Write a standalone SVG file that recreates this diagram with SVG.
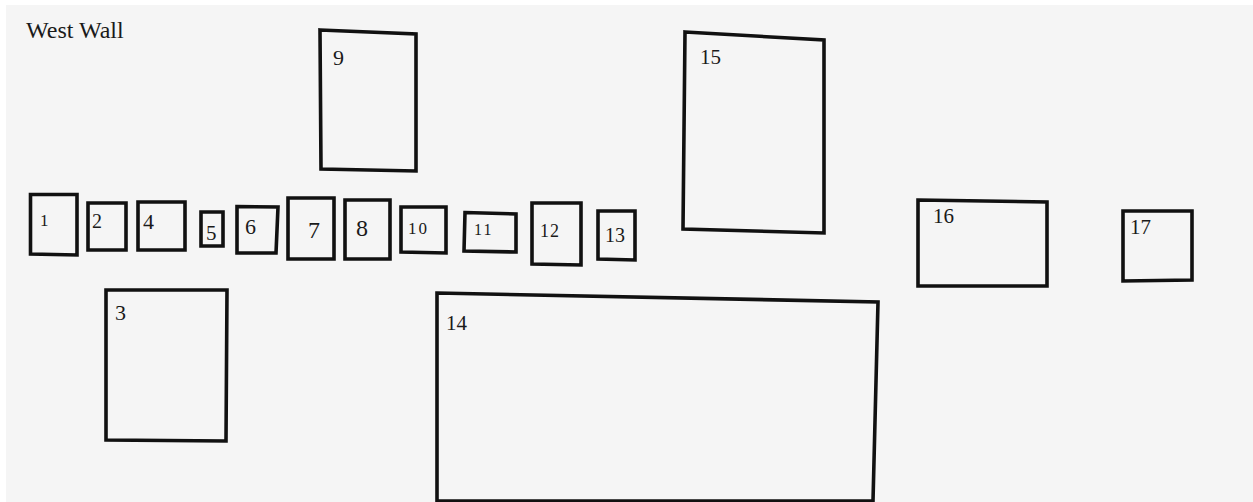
<svg xmlns="http://www.w3.org/2000/svg" width="1253" height="502" viewBox="0 0 1253 502">
<style>
.f{fill:none;stroke:#111;stroke-width:3.6;stroke-linejoin:miter}
.t{font-family:"Liberation Serif","Times New Roman",serif;fill:#1a1a1a;font-variant-numeric:oldstyle-nums}
</style>
<rect x="0" y="0" width="1253" height="502" fill="#ffffff"/>
<rect x="6" y="5" width="1247" height="497" fill="#f5f5f5"/>
<text class="t" x="26" y="38" font-size="24">West Wall</text>
<g id="n1"><polygon class="f" points="30.5,194.5 77,194.5 77,255 30.5,254"/><text class="t" x="40" y="226" font-size="17">1</text></g>
<g id="n2"><polygon class="f" points="88,203 126,203 126,250 88,250"/><text class="t" x="92" y="228" font-size="20">2</text></g>
<g id="n4"><polygon class="f" points="138,202 185,202 185,250 138,250"/><text class="t" x="143" y="229" font-size="22">4</text></g>
<g id="n5"><polygon class="f" points="201,212 223,212 223,246 201,246"/><text class="t" x="206" y="240" font-size="21">5</text></g>
<g id="n6"><polygon class="f" points="237,206.5 278,207 276,253 237,253"/><text class="t" x="245" y="234" font-size="22">6</text></g>
<g id="n7"><polygon class="f" points="288,198 334,198 334,259 288,259"/><text class="t" x="308" y="238" font-size="24">7</text></g>
<g id="n8"><polygon class="f" points="345,200 390,200 390,259 345,259"/><text class="t" x="356" y="236" font-size="24">8</text></g>
<g id="n10"><polygon class="f" points="401,207 446,207 446,253 401,252"/><text class="t" x="408" y="234" font-size="17" letter-spacing="2">10</text></g>
<g id="n11"><polygon class="f" points="465,212.5 516,214 516,252 464,251"/><text class="t" x="474" y="235" font-size="16" letter-spacing="2">11</text></g>
<g id="n12"><polygon class="f" points="532,203 581,203 581,265 532,264"/><text class="t" x="540" y="237" font-size="18" letter-spacing="1">12</text></g>
<g id="n13"><polygon class="f" points="598,211 635,211 635,260 598,259"/><text class="t" x="605" y="242" font-size="20">13</text></g>
<g id="n9"><polygon class="f" points="320,30 416,34 416,171 321,169"/><text class="t" x="333" y="65" font-size="22">9</text></g>
<g id="n3"><polygon class="f" points="106,290 227,290 226,441 106,440"/><text class="t" x="115" y="320" font-size="22">3</text></g>
<g id="n14"><polygon class="f" points="437,293 878,302 873,501 437,501"/><text class="t" x="446" y="330" font-size="21">14</text></g>
<g id="n15"><polygon class="f" points="685,32 824,40 824,233 683,229"/><text class="t" x="700" y="64" font-size="21">15</text></g>
<g id="n16"><polygon class="f" points="918,200 1047,202 1047,286 918,286"/><text class="t" x="933" y="223" font-size="21">16</text></g>
<g id="n17"><polygon class="f" points="1123,211 1192,211 1192,280 1123,281"/><text class="t" x="1130" y="234" font-size="21">17</text></g>
</svg>
